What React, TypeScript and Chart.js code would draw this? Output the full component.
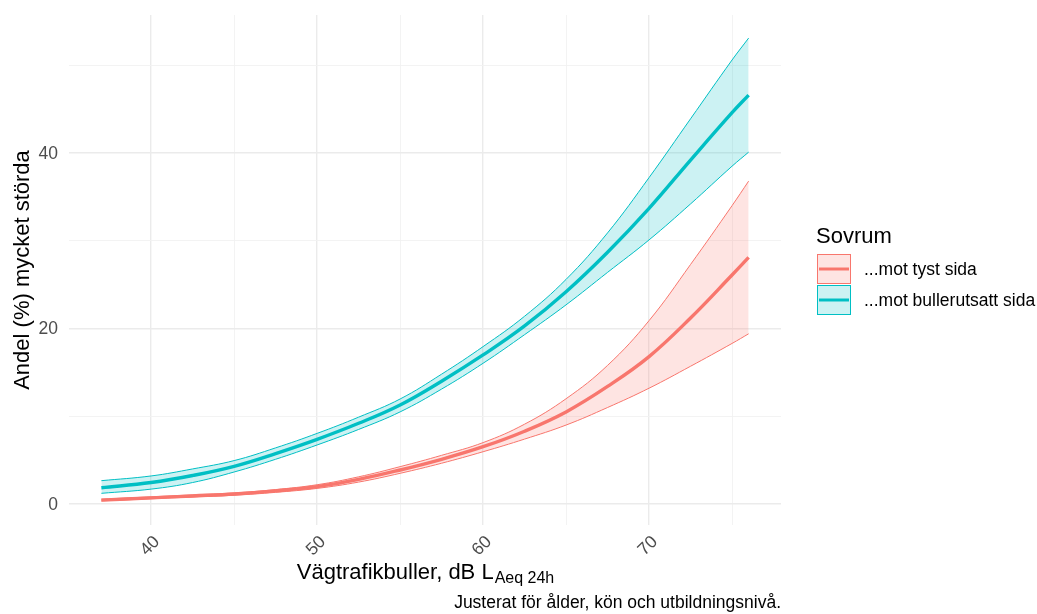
import React, { useEffect, useRef } from "react";
import { Chart, registerables } from "chart.js";

Chart.register(...registerables);

// Road traffic noise levels, dB LAeq 24h
const noiseLevels = [37, 40, 42.5, 45, 47.5, 50, 52.5, 55, 57.5, 60, 62.5, 65, 67.5, 70, 72.5, 75, 76];

// ...mot tyst sida (quiet side)
const tystMean = [0.44, 0.7, 0.92, 1.14, 1.5, 1.98, 2.8, 3.88, 5.1, 6.53, 8.3, 10.5, 13.4, 16.8, 21.2, 26.1, 28.1];
const tystUpper = [0.55, 0.82, 1.04, 1.26, 1.65, 2.2, 3.1, 4.26, 5.55, 7.0, 9.1, 12.0, 15.8, 20.9, 27.3, 34.0, 36.8];
const tystLower = [0.36, 0.6, 0.8, 1.0, 1.33, 1.78, 2.5, 3.5, 4.65, 5.96, 7.4, 9.0, 11.0, 13.2, 15.7, 18.3, 19.4];

// ...mot bullerutsatt sida (noise-exposed side)
const bullerMean = [1.86, 2.45, 3.25, 4.3, 5.75, 7.37, 9.2, 11.29, 14.0, 16.99, 20.3, 24.2, 28.7, 33.7, 39.2, 44.6, 46.6];
const bullerUpper = [2.66, 3.2, 4.0, 4.95, 6.4, 8.05, 9.9, 11.97, 14.8, 17.94, 21.4, 25.6, 30.9, 37.2, 43.9, 50.6, 53.1];
const bullerLower = [1.22, 1.7, 2.45, 3.65, 5.1, 6.73, 8.5, 10.5, 13.1, 16.04, 19.3, 22.7, 26.4, 30.1, 34.2, 38.5, 40.1];

const xTicks = [40, 45, 50, 55, 60, 65, 70, 75];
const xTickLabels = [40, 50, 60, 70];
const yTicks = [0, 10, 20, 30, 40, 50];
const yTickLabels = [0, 20, 40];

const seriesLabels = ["...mot tyst sida", "...mot bullerutsatt sida"];
const legendTitle = "Sovrum";
const yTitle = "Andel (%) mycket störda";
const xTitleMain = "Vägtrafikbuller, dB L";
const xTitleSub = "Aeq 24h";
const caption = "Justerat för ålder, kön och utbildningsnivå.";

const RED = "#F8766D";
const TEAL = "#00BFC4";
const RED_FILL = "rgba(248,118,109,0.2)";
const TEAL_FILL = "rgba(0,191,196,0.2)";
const FONT = "'Liberation Sans', Arial, Helvetica, sans-serif";

const pts = (ys: number[]) => noiseLevels.map((x, i) => ({ x, y: ys[i] }));

const textPlugin = {
  id: "ggText",
  afterDraw(chart: any) {
    const ctx = chart.ctx as CanvasRenderingContext2D;
    const xs = chart.scales.x;
    const ys = chart.scales.y;
    const area = chart.chartArea;
    ctx.save();
    // tick labels
    ctx.fillStyle = "#4D4D4D";
    ctx.font = `17.5px ${FONT}`;
    ctx.textAlign = "center";
    ctx.textBaseline = "middle";
    xTickLabels.forEach((v) => {
      const px = xs.getPixelForValue(v);
      ctx.save();
      ctx.translate(px - 1, 546);
      ctx.rotate(-Math.PI / 4);
      ctx.fillText(String(v), 0, 0);
      ctx.restore();
    });
    ctx.textAlign = "right";
    yTickLabels.forEach((v) => {
      ctx.fillText(String(v), area.left - 11, ys.getPixelForValue(v) + 1);
    });
    // y title
    ctx.fillStyle = "#000";
    ctx.font = `22px ${FONT}`;
    ctx.save();
    ctx.translate(23, (area.top + area.bottom) / 2);
    ctx.rotate(-Math.PI / 2);
    ctx.textAlign = "center";
    ctx.textBaseline = "middle";
    ctx.fillText(yTitle, 0, 0);
    ctx.restore();
    // x title with subscript
    ctx.textBaseline = "alphabetic";
    ctx.textAlign = "left";
    ctx.font = `22px ${FONT}`;
    const wMain = ctx.measureText(xTitleMain).width;
    ctx.font = `16px ${FONT}`;
    const wSub = ctx.measureText(xTitleSub).width;
    const cx = (area.left + area.right) / 2;
    const x0 = cx - (wMain + wSub) / 2;
    ctx.font = `22px ${FONT}`;
    ctx.fillText(xTitleMain, x0, 579);
    ctx.font = `16px ${FONT}`;
    ctx.fillText(xTitleSub, x0 + wMain + 1, 583);
    // caption
    ctx.font = `17.5px ${FONT}`;
    ctx.textAlign = "right";
    ctx.fillText(caption, area.right, 608);
    // legend
    ctx.textAlign = "left";
    ctx.font = `22px ${FONT}`;
    ctx.fillText(legendTitle, 816, 243);
    const keys = [
      { y: 254, line: RED, fill: RED_FILL },
      { y: 285, line: TEAL, fill: TEAL_FILL },
    ];
    keys.forEach((k, i) => {
      ctx.fillStyle = k.fill;
      ctx.fillRect(817, k.y, 34, 30);
      ctx.strokeStyle = k.line;
      ctx.lineWidth = 1;
      ctx.strokeRect(817.5, k.y + 0.5, 33, 29);
      ctx.beginPath();
      ctx.lineWidth = 3;
      ctx.moveTo(819, k.y + 15);
      ctx.lineTo(849, k.y + 15);
      ctx.stroke();
      ctx.fillStyle = "#000";
      ctx.font = `17.5px ${FONT}`;
      ctx.textBaseline = "middle";
      ctx.fillText(seriesLabels[i], 864, k.y + 16);
    });
    ctx.restore();
  },
};

export default function App() {
  const ref = useRef<HTMLCanvasElement | null>(null);
  useEffect(() => {
    if (!ref.current) return;
    const line = (data: any, color: string, width: number, extra: any = {}) => ({
      data,
      borderColor: color,
      borderWidth: width,
      pointRadius: 0,
      tension: 0.4,
      fill: false,
      ...extra,
    });
    const gridColor = (major: number) => (c: any) =>
      c.tick && c.tick.value % major === 0 ? "#EBEBEB" : "#F2F2F2";
    const gridWidth = (major: number) => (c: any) =>
      c.tick && c.tick.value % major === 0 ? 1.4 : 0.9;
    const chart = new Chart(ref.current, {
      type: "line",
      data: {
        datasets: [
          line(pts(bullerMean), TEAL, 3.4),
          line(pts(tystMean), RED, 3.4),
          line(pts(bullerUpper), TEAL, 1, { fill: "+1", backgroundColor: TEAL_FILL }),
          line(pts(bullerLower), TEAL, 1),
          line(pts(tystUpper), RED, 1, { fill: "+1", backgroundColor: RED_FILL }),
          line(pts(tystLower), RED, 1),
        ] as any,
      },
      options: {
        animation: false,
        responsive: false,
        devicePixelRatio: 1,
        layout: { padding: { top: 15, right: 256, left: 69, bottom: 89 } },
        plugins: { legend: { display: false }, tooltip: { enabled: false } },
        scales: {
          x: {
            type: "linear",
            min: 35.05,
            max: 77.95,
            border: { display: false },
            afterBuildTicks: (s: any) => {
              s.ticks = xTicks.map((value) => ({ value }));
            },
            afterFit: (s: any) => {
              s.height = 0;
              s.paddingLeft = 0;
              s.paddingRight = 0;
            },
            ticks: { display: false },
            grid: { drawTicks: false, color: gridColor(10), lineWidth: gridWidth(10) },
          },
          y: {
            type: "linear",
            min: -2.39,
            max: 55.73,
            border: { display: false },
            afterBuildTicks: (s: any) => {
              s.ticks = yTicks.map((value) => ({ value }));
            },
            afterFit: (s: any) => {
              s.width = 0;
              s.paddingTop = 0;
              s.paddingBottom = 0;
            },
            ticks: { display: false },
            grid: { drawTicks: false, color: gridColor(20), lineWidth: gridWidth(20) },
          },
        },
      } as any,
      plugins: [textPlugin],
    });
    return () => chart.destroy();
  }, []);
  return (
    <div style={{ position: "fixed", left: 0, top: 0, width: 1037, height: 614, background: "#fff" }}>
      <canvas ref={ref} width={1037} height={614} style={{ width: 1037, height: 614, display: "block" }} />
    </div>
  );
}
